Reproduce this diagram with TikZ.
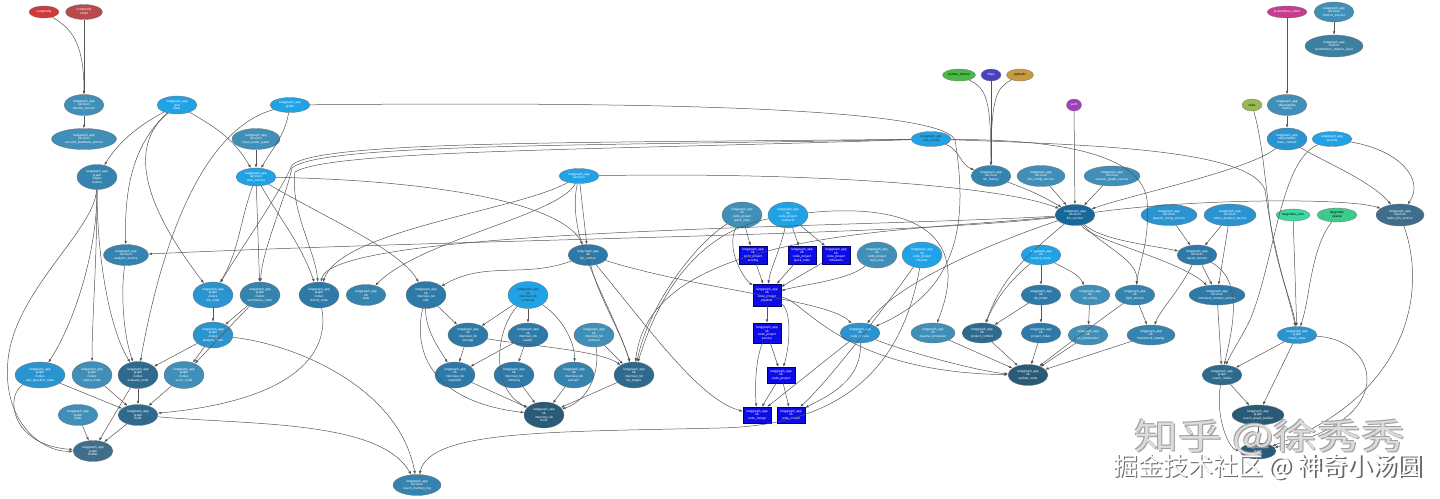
\documentclass[tikz,border=0pt]{standalone}
\usepackage{fontspec}
\setmainfont{Liberation Sans}
\newfontfamily\cjk{Noto Sans CJK SC}
\usetikzlibrary{arrows.meta,positioning,shapes.geometric}

\definecolor{cbright}{HTML}{1FA2E6}
\definecolor{csky}{HTML}{2A94D0}
\definecolor{csteel}{HTML}{3F8FB8}
\definecolor{cmid}{HTML}{3584B0}
\definecolor{cdeep}{HTML}{2D7AA8}
\definecolor{cdark}{HTML}{2D6A8E}
\definecolor{cdarker}{HTML}{295A78}
\definecolor{chub}{HTML}{16679A}
\definecolor{cslate}{HTML}{3E6E8C}
\definecolor{cgrey}{HTML}{3D7FA0}
\definecolor{cbox}{HTML}{0C0CE8}
\definecolor{cred}{HTML}{D0393A}
\definecolor{credtwo}{HTML}{B84A4E}
\definecolor{cgreen}{HTML}{4CB848}
\definecolor{cindigo}{HTML}{4A40C0}
\definecolor{cgold}{HTML}{C89A40}
\definecolor{cpurple}{HTML}{A040B8}
\definecolor{cmagenta}{HTML}{C83C90}
\definecolor{colive}{HTML}{9CB850}
\definecolor{ctealone}{HTML}{3CD8A0}
\definecolor{ctealtwo}{HTML}{3CCB8C}
\definecolor{cline}{HTML}{555555}

\tikzset{
modnode/.style={
  ellipse,
  draw=black!55,
  line width=0.3pt,
  fill=#1,
  text=white,
  inner sep=0pt,
  minimum width=40pt,
  minimum height=21pt,
  align=center,
  font=\fontsize{3.2}{3.7}\selectfont,
  }
}
\tikzset{
extnode/.style={
  modnode=#1,
  minimum height=12pt,
  }
}
\tikzset{
kbbox/.style={
  rectangle,
  draw=blue!40!black,
  line width=0.3pt,
  fill=cbox,
  text=white,
  inner sep=0pt,
  minimum width=28pt,
  minimum height=18pt,
  align=center,
  font=\fontsize{3.2}{3.7}\selectfont,
  }
}
\tikzset{
dep/.style={
  draw=cline,
  line width=0.5pt,
  -{Latex[length=3.5pt,width=2.6pt]}
  }
}
\tikzset{
markone/.style={
  font=\cjk\fontsize{44}{44}\selectfont,
  transform shape,
  yscale=0.8,
  }
}

\begin{document}
\begin{tikzpicture}[x=1pt,y=-1pt]
    \useasboundingbox (0,0) rectangle (1440,498);

    % outside packages
    \node[extnode=cred, minimum width=30pt] (complexity) at (44,12) {complexity};
    \node[extnode=credtwo, minimum width=37pt, minimum height=15pt] (cscript) at (84,12) {complexity\\script};
    \node[extnode=cgreen, minimum width=33pt, text=black] (dotenv) at (959,75) {python\_dotenv};
    \node[extnode=cindigo, minimum width=20pt] (httpx) at (991,75) {httpx};
    \node[extnode=cgold, minimum width=27pt, text=black] (pydantic) at (1020,75) {pydantic};
    \node[extnode=cpurple, minimum width=15pt] (yaml) at (1074,105) {yaml};
    \node[extnode=cmagenta, minimum width=40pt] (prom) at (1287,12) {prometheus\_client};
    \node[extnode=colive, minimum width=20pt, text=black] (redis) at (1252,105) {redis};
    \node[extnode=ctealone, minimum width=34pt, text=black] (lccore) at (1293,215) {langchain\_core};
    \node[extnode=ctealtwo, minimum width=40pt, minimum height=14pt, text=black] (lcopenai) at (1337,215) {langchain\\openai};

    % graph part
    \node[modnode=csteel] (identity) at (84,105) {langgraph\_app\\services\\identity\_service};
    \node[modnode=csteel, minimum width=65pt] (feedback) at (84,139) {langgraph\_app\\services\\account\_feedback\_service};
    \node[modnode=cbright, minimum height=18pt] (grid) at (177,105) {langgraph\_app\\grid\\base};
    \node[modnode=cbright, minimum height=15pt] (graphpkg) at (290,105) {langgraph\_app\\graph};
    \node[modnode=csteel, minimum width=48pt] (audioguard) at (256,139) {langgraph\_app\\services\\input\_audio\_guard};
    \node[modnode=cmid, minimum height=25pt] (edges) at (97,177) {langgraph\_app\\graph\\edges\\routers};
    \node[modnode=cbright, minimum height=18pt] (usersvc) at (256,177) {langgraph\_app\\services\\user\_service};
    \node[modnode=cmid, minimum width=45pt] (analysissvc) at (126,255) {langgraph\_app\\services\\analysis\_service};
    \node[modnode=csky, minimum height=26pt] (initnode) at (213,295) {langgraph\_app\\graph\\nodes\\init\_node};
    \node[modnode=cmid, minimum height=26pt] (summnode) at (260,295) {langgraph\_app\\graph\\nodes\\summarize\_node};
    \node[modnode=cdeep, minimum height=26pt] (recnode) at (319,295) {langgraph\_app\\graph\\nodes\\record\_node};
    \node[modnode=cmid] (kbstate) at (366,295) {langgraph\_app\\kb\\state};
    \node[modnode=csky, minimum height=26pt] (anode) at (213,335) {langgraph\_app\\graph\\nodes\\analysis\_node};
    \node[modnode=csky, minimum width=50pt, minimum height=26pt] (asknode) at (40,375) {langgraph\_app\\graph\\nodes\\ask\_question\_node};
    \node[modnode=csteel, minimum height=27pt] (reportnode) at (92,375) {langgraph\_app\\graph\\nodes\\report\_node};
    \node[modnode=cdark, minimum height=27pt] (evalnode) at (138,375) {langgraph\_app\\graph\\nodes\\evaluate\_node};
    \node[modnode=csteel, minimum height=27pt] (scorenode) at (184,375) {langgraph\_app\\graph\\nodes\\score\_node};
    \node[modnode=csteel] (gstate) at (78,415) {langgraph\_app\\graph\\state};
    \node[modnode=cdark] (gbuild) at (138,415) {langgraph\_app\\graph\\build};
    \node[modnode=cslate] (gbuilder) at (93,451) {langgraph\_app\\graph\\builder};

    % interview kb part
    \node[modnode=cbright, minimum height=15pt] (services) at (579,176) {langgraph\_app\\services};
    \node[modnode=cdeep] (kbsvc) at (588,255) {langgraph\_app\\kb\\kb\_service};
    \node[modnode=cdeep, minimum height=27pt] (ivutils) at (426,295) {langgraph\_app\\kb\\interview\_kb\\utils};
    \node[modnode=cbright, minimum height=27pt, text=black!80] (ivschemas) at (528,295) {langgraph\_app\\kb\\interview\_kb\\schemas};
    \node[modnode=cdeep, minimum height=24pt] (ivstorage) at (468,335) {langgraph\_app\\kb\\interview\_kb\\storage};
    \node[modnode=cdeep, minimum height=24pt] (ivloader) at (528,335) {langgraph\_app\\kb\\interview\_kb\\loader};
    \node[modnode=csteel, minimum height=24pt] (ivretr) at (594,335) {langgraph\_app\\kb\\interview\_kb\\retriever};
    \node[modnode=cdeep, minimum height=26pt] (ivingest) at (455,375) {langgraph\_app\\kb\\interview\_kb\\ingestion};
    \node[modnode=cdeep, minimum height=26pt] (ivindex) at (514,375) {langgraph\_app\\kb\\interview\_kb\\indexing};
    \node[modnode=cmid, minimum height=26pt] (ivparse) at (574,375) {langgraph\_app\\kb\\interview\_kb\\parsers};
    \node[modnode=cdark, minimum height=26pt] (ivstages) at (634,375) {langgraph\_app\\kb\\interview\_kb\\kb\_stages};
    \node[modnode=cdarker, minimum height=26pt] (ivbuild) at (544,415) {langgraph\_app\\kb\\interview\_kb\\build};
    \node[modnode=cmid, minimum width=48pt] (coachlog) at (417,485) {langgraph\_app\\services\\coach\_memory\_log};

    % code project part
    \node[modnode=csteel, minimum height=26pt] (quickscan) at (742,215) {langgraph\_app\\kb\\code\_project\\quick\_scan};
    \node[modnode=cbright, minimum height=26pt] (contracts) at (788,215) {langgraph\_app\\kb\\code\_project\\contracts};
    \node[kbbox] (scoring) at (753,255) {langgraph\_app\\kb\\code\_project\\scoring};
    \node[kbbox] (quickrules) at (802,255) {langgraph\_app\\kb\\code\_project\\quick\_rules};
    \node[kbbox] (indicators) at (836,255) {langgraph\_app\\kb\\code\_project\\indicators};
    \node[modnode=csteel, minimum height=26pt] (repotree) at (877,255) {langgraph\_app\\kb\\code\_project\\repo\_tree};
    \node[modnode=cbright, minimum height=26pt] (chunker) at (922,255) {langgraph\_app\\kb\\code\_project\\chunker};
    \node[kbbox, minimum height=22pt] (cppipe) at (767,295) {langgraph\_app\\kb\\code\_project\\pipeline};
    \node[kbbox, minimum height=20pt] (cpservice) at (767,333) {langgraph\_app\\kb\\code\_project\\service};
    \node[kbbox, minimum height=16pt] (codeproj) at (781,375) {langgraph\_app\\kb\\code\_project};
    \node[kbbox, minimum height=16pt] (codemerge) at (757,415) {langgraph\_app\\kb\\code\_merge};
    \node[kbbox, minimum height=16pt] (codeextract) at (791,415) {langgraph\_app\\kb\\code\_extract};

    % llm services part
    \node[modnode=cbright, minimum height=15pt, text=black!80] (coreconfig) at (931,139) {langgraph\_app\\core\_config};
    \node[modnode=cmid] (llmfactory) at (991,176) {langgraph\_app\\services\\llm\_factory};
    \node[modnode=csteel, minimum width=48pt] (llmconfig) at (1041,176) {langgraph\_app\\services\\llm\_config\_service};
    \node[modnode=csteel, minimum width=56pt, minimum height=20pt] (sessgraph) at (1112,176) {langgraph\_app\\services\\session\_graph\_service};
    \node[modnode=chub] (llmsvc) at (1075,215) {langgraph\_app\\services\\llm\_service};
    \node[modnode=csky, minimum width=56pt] (speech) at (1169,215) {langgraph\_app\\services\\speech\_recog\_service};
    \node[modnode=csky, minimum width=52pt, minimum height=22pt] (vision) at (1230,215) {langgraph\_app\\services\\vision\_analyze\_service};
    \node[modnode=cslate, minimum width=48pt, minimum height=22pt] (tasksllm) at (1400,215) {langgraph\_app\\services\\tasks\_llm\_service};

    % metrics part
    \node[modnode=csteel, minimum height=20pt] (metricssvc) at (1334,12) {langgraph\_app\\services\\metrics\_service};
    \node[modnode=cgrey, minimum width=58pt, minimum height=22pt] (promlayer) at (1334,46) {langgraph\_app\\metrics\\prometheus\_metrics\_layer};
    \node[modnode=csteel] (obsmetrics) at (1287,105) {langgraph\_app\\observability\\metrics};
    \node[modnode=csky, minimum height=22pt] (tracectx) at (1287,139) {langgraph\_app\\observability\\trace\_context};
    \node[modnode=cbright, minimum height=15pt] (security) at (1332,139) {langgraph\_app\\security};

    % kb services part
    \node[modnode=cbright, minimum height=20pt] (svcroute) at (1041,255) {langgraph\_app\\kb\\service\_route};
    \node[modnode=cdeep, minimum height=20pt] (kbrouter) at (1041,295) {langgraph\_app\\kb\\kb\_router};
    \node[modnode=csteel, minimum height=20pt] (kbconfig) at (1090,295) {langgraph\_app\\kb\\kb\_config};
    \node[modnode=cmid, minimum height=20pt] (lightsvc) at (1135,295) {langgraph\_app\\kb\\light\_service};
    \node[modnode=cdeep, minimum height=20pt] (reportsvc) at (1197,255) {langgraph\_app\\services\\report\_service};
    \node[modnode=cdeep, minimum width=56pt, minimum height=20pt] (ctxsvc) at (1217,295) {langgraph\_app\\services\\interview\_context\_service};
    \node[modnode=csky, minimum height=20pt] (codesvc) at (860,333) {langgraph\_app\\kb\\code\_service};
    \node[modnode=csteel, minimum width=44pt, minimum height=20pt] (resume) at (933,333) {langgraph\_app\\kb\\resume\_processor};
    \node[modnode=cdark, minimum height=20pt] (projctx) at (982,333) {langgraph\_app\\kb\\project\_context};
    \node[modnode=cdeep, minimum height=20pt] (projidx) at (1041,333) {langgraph\_app\\kb\\project\_index};
    \node[modnode=csteel, minimum height=20pt] (kbfw) at (1088,335) {langgraph\_app\\kb\\kb\_frameworks};
    \node[modnode=cmid, minimum width=48pt, minimum height=20pt] (fwcat) at (1151,335) {langgraph\_app\\kb\\framework\_catalog};
    \node[modnode=cdarker] (updnode) at (1028,375) {langgraph\_app\\kb\\update\_node};

    % coach part
    \node[modnode=csky, minimum height=17pt] (coachstate) at (1297,335) {langgraph\_app\\graph\\coach\_state};
    \node[modnode=cdark, minimum height=20pt] (coachnodes) at (1222,375) {langgraph\_app\\graph\\coach\_nodes};
    \node[modnode=cdarker, minimum width=52pt, minimum height=20pt] (coachbuilder) at (1258,415) {langgraph\_app\\graph\\coach\_graph\_builder};
    \node[modnode=cdarker, minimum width=36pt, minimum height=16pt] (runner) at (1258,451) {langgraph\_app\\graph\\runner};

    % graph edges
    \draw[dep] (complexity) .. controls (70,28) and (84,40) .. (identity);
    \draw[dep] (cscript) -- (identity);
    \draw[dep] (identity) -- (feedback);
    \draw[dep] (grid) .. controls (140,125) and (120,140) .. (edges);
    \draw[dep] (grid) to[out=-30,in=120] (usersvc);
    \draw[dep] (graphpkg) to[out=-100,in=60] (usersvc);
    \draw[dep] (audioguard) -- (usersvc);
    \draw[dep] (grid) .. controls (130,145) and (140,200) .. (initnode);
    \draw[dep] (grid) .. controls (125,150) and (125,210) .. (analysissvc);
    \draw[dep] (graphpkg) .. controls (200,130) and (160,250) .. (evalnode);
    \draw[dep] (graphpkg) .. controls (600,102) and (940,105) .. (955,140) .. controls (968,220) and (960,290) .. (codesvc);
    \draw[dep] (edges) .. controls (97,260) and (70,330) .. (asknode);
    \draw[dep] (edges) .. controls (97,260) and (92,320) .. (reportnode);
    \draw[dep] (edges) .. controls (97,260) and (110,330) .. (evalnode);
    \draw[dep] (edges) .. controls (95,230) and (15,290) .. (8,360) .. controls (2,420) and (40,452) .. (gbuilder);
    \draw[dep] (asknode) .. controls (5,395) and (10,445) .. (gbuilder);
    \draw[dep] (asknode) -- (gbuild);
    \draw[dep] (reportnode) -- (gbuild);
    \draw[dep] (evalnode) -- (gbuild);
    \draw[dep] (scorenode) -- (gbuild);
    \draw[dep] (evalnode) -- (gbuilder);
    \draw[dep] (gstate) -- (gbuilder);
    \draw[dep] (gbuild) -- (gbuilder);
    \draw[dep] (usersvc) -- (summnode);
    \draw[dep] (usersvc) to[out=-110,in=60] (initnode);
    \draw[dep] (usersvc) to[out=-60,in=110] (recnode);
    \draw[dep] (initnode) -- (anode);
    \draw[dep] (summnode) -- (anode);
    \draw[dep] (anode) -- (evalnode);
    \draw[dep] (anode) -- (scorenode);
    \draw[dep] (summnode) -- (scorenode);
    \draw[dep] (analysissvc) .. controls (120,300) and (125,340) .. (evalnode);
    \draw[dep] (recnode) .. controls (330,350) and (300,400) .. (gbuild);
    \draw[dep] (gbuild) .. controls (250,425) and (380,420) .. (coachlog);
    \draw[dep] (anode) .. controls (300,345) and (400,390) .. (coachlog);
    \draw[dep] (coreconfig) .. controls (600,143) and (320,140) .. (292,165) .. controls (282,190) and (240,250) .. (initnode);
    \draw[dep] (coreconfig) .. controls (600,146) and (320,143) .. (292,168) .. controls (285,200) and (262,250) .. (summnode);
    \draw[dep] (coreconfig) .. controls (600,150) and (330,150) .. (295,172) .. controls (290,210) and (315,250) .. (recnode);

    % interview kb edges
    \draw[dep] (services) -- (kbsvc);
    \draw[dep] (services) .. controls (560,215) and (420,240) .. (kbstate);
    \draw[dep] (services) .. controls (565,240) and (610,300) .. (ivstages);
    \draw[dep] (services) .. controls (800,172) and (1000,185) .. (llmsvc);
    \draw[dep] (services) .. controls (520,210) and (340,230) .. (recnode);
    \draw[dep] (usersvc) .. controls (420,180) and (560,200) .. (kbsvc);
    \draw[dep] (usersvc) .. controls (330,220) and (400,250) .. (ivutils);
    \draw[dep] (kbsvc) to[out=-160,in=30] (ivutils);
    \draw[dep] (kbsvc) .. controls (600,300) and (620,330) .. (ivstages);
    \draw[dep] (kbsvc) .. controls (700,290) and (830,300) .. (codesvc);
    \draw[dep] (kbsvc) .. controls (650,330) and (700,400) .. (codemerge);
    \draw[dep] (ivutils) -- (ivstorage);
    \draw[dep] (ivutils) .. controls (425,330) and (440,350) .. (ivingest);
    \draw[dep] (ivutils) .. controls (415,340) and (420,400) .. (ivbuild);
    \draw[dep] (ivschemas) -- (ivstorage);
    \draw[dep] (ivschemas) -- (ivloader);
    \draw[dep] (ivschemas) .. controls (565,320) and (575,345) .. (ivparse);
    \draw[dep] (ivschemas) .. controls (495,330) and (490,390) .. (ivbuild);
    \draw[dep] (ivstorage) -- (ivingest);
    \draw[dep] (ivstorage) .. controls (520,345) and (600,350) .. (ivstages);
    \draw[dep] (ivloader) -- (ivindex);
    \draw[dep] (ivloader) -- (ivingest);
    \draw[dep] (ivretr) -- (ivstages);
    \draw[dep] (ivretr) .. controls (600,370) and (590,400) .. (ivbuild);
    \draw[dep] (ivingest) -- (ivbuild);
    \draw[dep] (ivindex) -- (ivbuild);
    \draw[dep] (ivparse) -- (ivbuild);
    \draw[dep] (ivstages) -- (ivbuild);

    % code project edges
    \draw[dep] (quickscan) -- (scoring);
    \draw[dep] (quickscan) .. controls (725,250) and (745,280) .. (cppipe);
    \draw[dep] (contracts) -- (quickrules);
    \draw[dep] (contracts) -- (indicators);
    \draw[dep] (contracts) .. controls (780,250) and (770,270) .. (cppipe);
    \draw[dep] (scoring) -- (cppipe);
    \draw[dep] (quickrules) -- (cppipe);
    \draw[dep] (indicators) -- (cppipe);
    \draw[dep] (repotree) .. controls (850,280) and (800,285) .. (cppipe);
    \draw[dep] (chunker) .. controls (890,300) and (830,380) .. (codeextract);
    \draw[dep] (cppipe) -- (cpservice);
    \draw[dep] (cppipe) .. controls (792,310) and (790,345) .. (codeproj);
    \draw[dep] (cpservice) -- (codeproj);
    \draw[dep] (cpservice) .. controls (755,360) and (755,390) .. (codemerge);
    \draw[dep] (codeproj) -- (codemerge);
    \draw[dep] (codeproj) -- (codeextract);
    \draw[dep] (codesvc) -- (codemerge);
    \draw[dep] (codesvc) .. controls (862,380) and (830,395) .. (codeextract);
    \draw[dep] (chunker) .. controls (905,350) and (860,425) .. (720,428) .. controls (550,432) and (430,430) .. (coachlog);
    \draw[dep] (quickscan) .. controls (700,240) and (650,300) .. (ivstages);
    \draw[dep] (contracts) .. controls (700,232) and (660,290) .. (ivstages);
    \draw[dep] (contracts) .. controls (880,205) and (980,215) .. (resume);
    \draw[dep] (cppipe) .. controls (805,300) and (840,372) .. (updnode);

    % llm service edges
    \draw[dep] (llmsvc) .. controls (900,236) and (500,238) .. (analysissvc);
    \draw[dep] (llmsvc) .. controls (900,232) and (650,230) .. (ivstages);
    \draw[dep] (llmsvc) .. controls (850,228) and (330,228) .. (recnode);
    \draw[dep] (llmsvc) .. controls (1100,240) and (1150,245) .. (reportsvc);
    \draw[dep] (llmsvc) .. controls (1100,245) and (1140,260) .. (lightsvc);
    \draw[dep] (llmsvc) .. controls (1090,240) and (1180,260) .. (ctxsvc);
    \draw[dep] (llmsvc) .. controls (1200,198) and (1350,198) .. (tasksllm);
    \draw[dep] (llmsvc) to[out=-140,in=70] (projctx);
    \draw[dep] (llmsvc) .. controls (1000,240) and (900,280) .. (codesvc);
    \draw[dep] (yaml) -- (llmsvc);
    \draw[dep] (llmfactory) to[out=-20,in=150] (llmsvc);
    \draw[dep] (llmconfig) -- (llmsvc);
    \draw[dep] (sessgraph) -- (llmsvc);
    \draw[dep] (tracectx) .. controls (1250,170) and (1130,195) .. (llmsvc);
    \draw[dep] (dotenv) .. controls (985,88) and (991,95) .. (llmfactory);
    \draw[dep] (httpx) -- (llmfactory);
    \draw[dep] (pydantic) .. controls (997,88) and (991,95) .. (llmfactory);
    \draw[dep] (coreconfig) .. controls (1000,140) and (1140,140) .. (1147,200) .. controls (1150,240) and (1140,260) .. (lightsvc);
    \draw[dep] (coreconfig) .. controls (1100,145) and (1250,150) .. (1265,190) .. controls (1275,260) and (1290,300) .. (coachstate);
    \draw[dep] (coreconfig) to[out=-20,in=160] (llmfactory);

    % metrics edges
    \draw[dep] (prom) -- (obsmetrics);
    \draw[dep] (metricssvc) -- (promlayer);
    \draw[dep] (obsmetrics) -- (tracectx);
    \draw[dep] (redis) .. controls (1262,140) and (1265,180) .. (1268,200) .. controls (1272,260) and (1292,300) .. (coachstate);
    \draw[dep] (tracectx) .. controls (1320,160) and (1370,180) .. (tasksllm);
    \draw[dep] (security) .. controls (1400,150) and (1425,180) .. (tasksllm);
    \draw[dep] (security) .. controls (1280,160) and (1275,260) .. (1250,320) .. controls (1240,340) and (1230,355) .. (coachnodes);

    % kb and coach edges
    \draw[dep] (speech) -- (reportsvc);
    \draw[dep] (vision) -- (reportsvc);
    \draw[dep] (vision) -- (ctxsvc);
    \draw[dep] (reportsvc) -- (ctxsvc);
    \draw[dep] (reportsvc) .. controls (1180,290) and (1160,310) .. (fwcat);
    \draw[dep] (reportsvc) .. controls (1245,280) and (1232,330) .. (coachnodes);
    \draw[dep] (ctxsvc) -- (coachnodes);
    \draw[dep] (lccore) -- (coachstate);
    \draw[dep] (lcopenai) .. controls (1310,250) and (1310,300) .. (coachstate);
    \draw[dep] (coachstate) -- (coachnodes);
    \draw[dep] (coachstate) -- (coachbuilder);
    \draw[dep] (coachstate) .. controls (1380,340) and (1400,420) .. (runner);
    \draw[dep] (tasksllm) .. controls (1430,300) and (1400,400) .. (runner);
    \draw[dep] (coachnodes) -- (coachbuilder);
    \draw[dep] (coachnodes) .. controls (1215,420) and (1230,450) .. (runner);
    \draw[dep] (coachbuilder) -- (runner);
    \draw[dep] (svcroute) -- (kbrouter);
    \draw[dep] (svcroute) to[out=-30,in=120] (kbconfig);
    \draw[dep] (svcroute) .. controls (1010,280) and (995,300) .. (projctx);
    \draw[dep] (kbrouter) -- (projidx);
    \draw[dep] (kbrouter) -- (projctx);
    \draw[dep] (kbconfig) -- (kbfw);
    \draw[dep] (lightsvc) -- (fwcat);
    \draw[dep] (lightsvc) .. controls (1100,320) and (1060,350) .. (updnode);
    \draw[dep] (codesvc) .. controls (900,350) and (980,372) .. (updnode);
    \draw[dep] (resume) -- (updnode);
    \draw[dep] (projctx) -- (updnode);
    \draw[dep] (projidx) -- (updnode);
    \draw[dep] (kbfw) -- (updnode);
    \draw[dep] (fwcat) -- (updnode);

    % watermarks
    \node[markone, text=black!38] (wmoneshade) at (1271,438.5) {知乎 @徐秀秀};
    \node[markone, text=black!38] (wmoneshadeb) at (1269,436.5) {知乎 @徐秀秀};
    \node[markone, text=black!14] (wmone) at (1270,437.5) {知乎 @徐秀秀};
    \node[font=\cjk\fontsize{25}{25}\selectfont, text=black!60] (wmtwoshade) at (1269.5,468.5) {掘金技术社区 @ 神奇小汤圆};
    \node[font=\cjk\fontsize{25}{25}\selectfont, text=white] (wmtwo) at (1268,467) {掘金技术社区 @ 神奇小汤圆};
\end{tikzpicture}
\end{document}
